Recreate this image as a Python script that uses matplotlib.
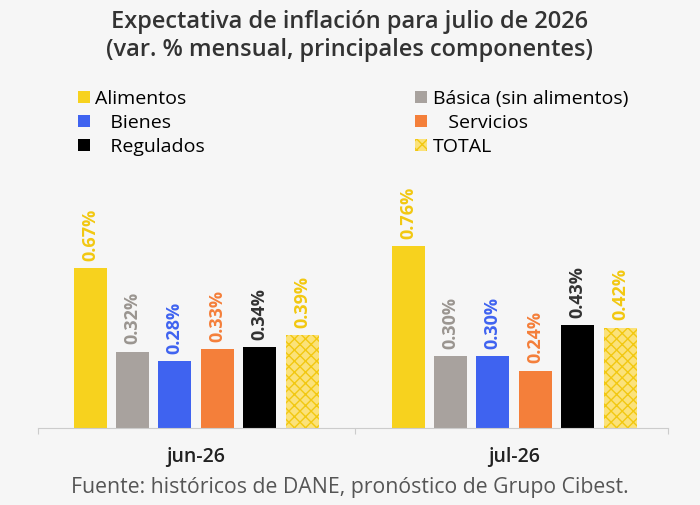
import numpy as np
import matplotlib.pyplot as plt

plt.rcParams['font.family'] = ['Open Sans', 'DejaVu Sans']

months = ['jun-26', 'jul-26']
series = ['Alimentos', 'Básica (sin alimentos)', 'Bienes', 'Servicios', 'Regulados', 'TOTAL']
values = {
    'Alimentos': [0.67, 0.76],
    'Básica (sin alimentos)': [0.32, 0.30],
    'Bienes': [0.28, 0.30],
    'Servicios': [0.33, 0.24],
    'Regulados': [0.34, 0.43],
    'TOTAL': [0.39, 0.42],
}
legend_names = {
    'Alimentos': 'Alimentos',
    'Básica (sin alimentos)': 'Básica (sin alimentos)',
    'Bienes': '   Bienes',
    'Servicios': '   Servicios',
    'Regulados': '   Regulados',
    'TOTAL': 'TOTAL',
}
colors = ['#f7d21e', '#a8a29e', '#3f63f0', '#f47f3a', '#000000', '#f7d21e']
label_colors = ['#f2c811', '#9a9590', '#3f63f0', '#f47f3a', '#333333', '#f2c811']

fig = plt.figure(figsize=(7, 5.05), dpi=100)
fig.patch.set_facecolor('#f6f6f6')
ax = fig.add_axes([38 / 700, 1 - 428 / 505, 630 / 700, 239 / 505])
ax.set_facecolor('#f6f6f6')

# group centres at 196 px and 514 px
x = np.arange(len(months))
scale = 318.0
step = 42.4 / scale
width = 33 / scale
handles = {}
for i, name in enumerate(series):
    pos = x + (i - 2.5) * step
    if name == 'TOTAL':
        bars = ax.bar(pos, values[name], width, color='#fbe27a', hatch='xxx',
                      edgecolor='#f2c811', linewidth=0)
    else:
        bars = ax.bar(pos, values[name], width, color=colors[i])
    handles[name] = bars
    for p, v in zip(pos, values[name]):
        ax.text(p, v + 0.03, f'{v:.2f}%', rotation=90, ha='center', va='bottom',
                fontsize=13, fontweight='bold', color=label_colors[i], clip_on=False)

ax.set_xlim(-(196 - 38) / scale, 1 + (668 - 514) / scale)
ax.set_ylim(0, 1)
ax.set_yticks([])
ax.set_xticks([-(196 - 38) / scale, 0.5, 1 + (668 - 514) / scale])
ax.tick_params(axis='x', length=4, color='#cccccc', labelbottom=False)
for s in ['top', 'right', 'left']:
    ax.spines[s].set_visible(False)
ax.spines['bottom'].set_color('#cccccc')
for xi, m in zip(x, months):
    ax.text(xi, -0.12, m, ha='center', va='center', fontsize=14,
            fontweight='semibold', color='#222222', clip_on=False)

order = ['Alimentos', 'Bienes', 'Regulados', 'Básica (sin alimentos)', 'Servicios', 'TOTAL']
fig.legend([handles[n] for n in order], [legend_names[n] for n in order],
           ncol=2, loc='upper left', bbox_to_anchor=(74 / 700, 1 - 86 / 505),
           frameon=False, fontsize=14, handlelength=0.6, handleheight=0.6,
           handletextpad=0.3, columnspacing=10.8, labelspacing=0.3,
           borderaxespad=0, borderpad=0.2)

fig.text(0.5, 1 - 22 / 505, 'Expectativa de inflación para julio de 2026',
         ha='center', va='center', fontsize=17, color='#333333', fontweight='semibold')
fig.text(0.5, 1 - 50 / 505, '(var. % mensual, principales componentes)',
         ha='center', va='center', fontsize=17, color='#333333', fontweight='semibold')
fig.text(0.5, 1 - 488 / 505, 'Fuente: históricos de DANE, pronóstico de Grupo Cibest.',
         ha='center', va='center', fontsize=15.3, color='#555555')

fig.savefig('out.png', dpi=100, facecolor=fig.get_facecolor())
